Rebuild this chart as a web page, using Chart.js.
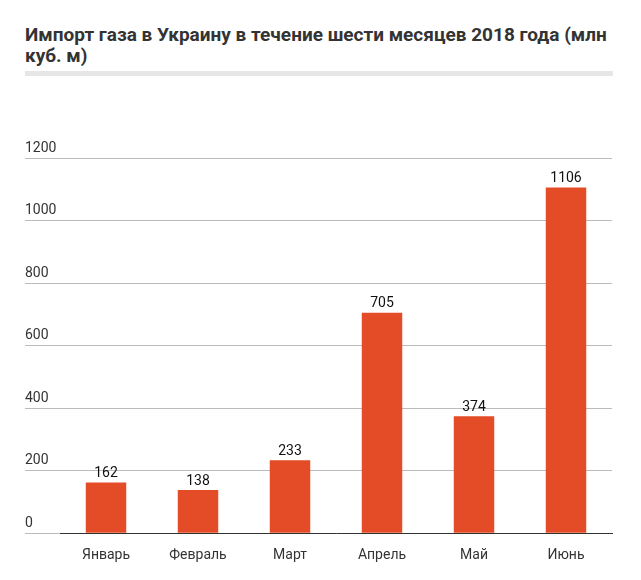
<!DOCTYPE html>
<html>
<head>
<meta charset="utf-8">
<script src="https://cdn.jsdelivr.net/npm/chart.js@4"></script>
<style>
  body { margin: 0; background: #fff; font-family: Roboto, sans-serif; }
  #title { position: absolute; left: 25px; top: 24px; width: 590px; font-size: 19px; font-weight: bold; color: #333; line-height: 21px; }
  #rule { position: absolute; left: 25px; top: 71px; width: 588px; height: 5px; background: #e6e6e6; }
  #wrap { position: absolute; left: 0; top: 0; width: 641px; height: 580px; }
</style>
</head>
<body>
<div id="title">Импорт газа в Украину в течение шести месяцев 2018 года (млн куб. м)</div>
<div id="rule"></div>
<div id="wrap"><canvas id="c"></canvas></div>
<script>
var months = ["Январь", "Февраль", "Март", "Апрель", "Май", "Июнь"];
var imports = [162, 138, 233, 705, 374, 1106];
var yTicks = [0, 200, 400, 600, 800, 1000, 1200];

var valueLabels = {
    id: 'valueLabels',
    afterDatasetsDraw: function (chart) {
        var ctx = chart.ctx;
        var meta = chart.getDatasetMeta(0);
        ctx.save();
        ctx.font = '14px Roboto';
        ctx.fillStyle = '#111';
        ctx.textAlign = 'center';
        ctx.textBaseline = 'bottom';
        meta.data.forEach(function (bar, i) {
            ctx.fillText(imports[i], bar.x, bar.y - 2);
        });
        ctx.restore();
    }
};

new Chart(document.getElementById('c'), {
    type: 'bar',
    data: {
        labels: months,
        datasets: [{
            data: imports,
            backgroundColor: '#e34c26',
            barPercentage: 0.44,
            categoryPercentage: 1
        }]
    },
    options: {
        responsive: true,
        maintainAspectRatio: false,
        animation: false,
        layout: { padding: { left: 25, right: 29, top: 158, bottom: 10 } },
        plugins: { legend: { display: false }, tooltip: { enabled: false } },
        scales: {
            x: {
                grid: { display: false },
                border: { color: '#333', width: 1 },
                ticks: { color: '#333', font: { family: 'Roboto', size: 14 }, padding: 6 }
            },
            y: {
                min: 0, max: 1200,
                afterBuildTicks: function (axis) {
                    axis.ticks = yTicks.map(function (v) { return { value: v }; });
                },
                afterFit: function (axis) { axis.width = 35; },
                grid: { color: '#bbb', drawTicks: true, tickLength: 35 },
                border: { display: false },
                ticks: {
                    crossAlign: 'far', padding: 0, labelOffset: -10,
                    color: '#333', font: { family: 'Roboto', size: 14 },
                    callback: function (v) { return String(v); }
                }
            }
        }
    },
    plugins: [valueLabels]
});
</script>
</body>
</html>
